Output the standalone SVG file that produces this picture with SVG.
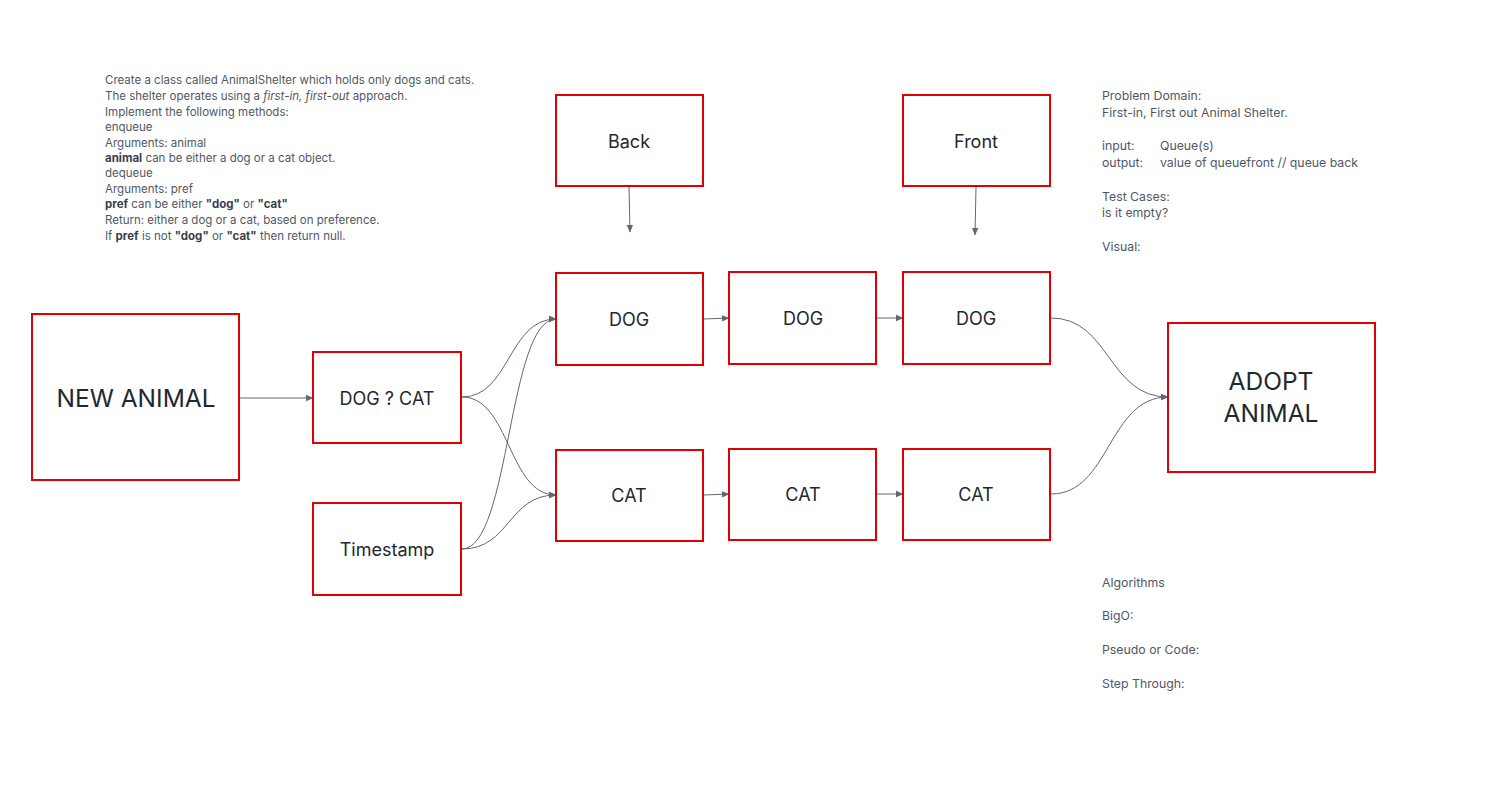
<svg xmlns="http://www.w3.org/2000/svg" width="1509" height="802" viewBox="0 0 1509 802">
<style>
.box{fill:#ffffff;stroke:#e00000;stroke-width:2}
.lbl{font-family:Inter,"Liberation Sans",sans-serif;fill:#23272f;text-anchor:middle;dominant-baseline:central}
.m{font-size:18px}
.l{font-size:24.5px}
.note{font-family:Inter,"Liberation Sans",sans-serif;font-size:11.5px;fill:#505766}
.note2{font-family:Inter,"Liberation Sans",sans-serif;font-size:12.3px;fill:#505766}
.b{font-weight:700;fill:#3a3f4b}
.conn{fill:none;stroke:#5f6778;stroke-width:1}
</style>
<defs>
<marker id="ah" viewBox="0 0 8 8" refX="7" refY="4" markerWidth="8" markerHeight="8" markerUnits="userSpaceOnUse" orient="auto">
<path d="M0,0.8 L7.5,4 L0,7.2 Z" fill="#5f6778"/>
</marker>
</defs>
<rect width="1509" height="802" fill="#ffffff"/>

<g id="notes-left">
<text class="note" x="105" y="84">Create a class called AnimalShelter which holds only dogs and cats.</text>
<text class="note" x="105" y="100">The shelter operates using a <tspan font-style="italic">first-in, first-out</tspan> approach.</text>
<text class="note" x="105" y="116">Implement the following methods:</text>
<text class="note" x="105" y="131">enqueue</text>
<text class="note" x="105" y="147">Arguments: animal</text>
<text class="note" x="105" y="162"><tspan class="b">animal</tspan> can be either a dog or a cat object.</text>
<text class="note" x="105" y="177">dequeue</text>
<text class="note" x="105" y="193">Arguments: pref</text>
<text class="note" x="105" y="208"><tspan class="b">pref</tspan> can be either <tspan class="b">"dog"</tspan> or <tspan class="b">"cat"</tspan></text>
<text class="note" x="105" y="224">Return: either a dog or a cat, based on preference.</text>
<text class="note" x="105" y="240">If <tspan class="b">pref</tspan> is not <tspan class="b">"dog"</tspan> or <tspan class="b">"cat"</tspan> then return null.</text>
</g>

<g id="notes-right">
<text class="note2" x="1102" y="100">Problem Domain:</text>
<text class="note2" x="1102" y="117">First-in, First out Animal Shelter.</text>
<text class="note2" x="1102" y="150">input:</text>
<text class="note2" x="1160" y="150">Queue(s)</text>
<text class="note2" x="1102" y="167">output:</text>
<text class="note2" x="1160" y="167">value of queuefront // queue back</text>
<text class="note2" x="1102" y="201">Test Cases:</text>
<text class="note2" x="1102" y="217">is it empty?</text>
<text class="note2" x="1102" y="251">Visual:</text>
<text class="note2" x="1102" y="587">Algorithms</text>
<text class="note2" x="1102" y="620">BigO:</text>
<text class="note2" x="1102" y="654">Pseudo or Code:</text>
<text class="note2" x="1102" y="688">Step Through:</text>
</g>

<g id="connectors">
<path class="conn" d="M240,398 L313,398" marker-end="url(#ah)"/>
<path class="conn" d="M462,397 C510,397 508,319 556,319" marker-end="url(#ah)"/>
<path class="conn" d="M462,397 C510,397 508,495 556,495" marker-end="url(#ah)"/>
<path class="conn" d="M462,549 C510,549 508,319 556,319" marker-end="url(#ah)"/>
<path class="conn" d="M462,549 C510,549 508,495 556,495" marker-end="url(#ah)"/>
<path class="conn" d="M704,319 L729,318" marker-end="url(#ah)"/>
<path class="conn" d="M704,495 L729,494" marker-end="url(#ah)"/>
<path class="conn" d="M877,318 L903,318" marker-end="url(#ah)"/>
<path class="conn" d="M877,494 L903,494" marker-end="url(#ah)"/>
<path class="conn" d="M1051,318 C1110,318 1108,397 1168,397" marker-end="url(#ah)"/>
<path class="conn" d="M1051,494 C1110,494 1108,397 1168,397" marker-end="url(#ah)"/>
<path class="conn" d="M629,187 L630,232" marker-end="url(#ah)"/>
<path class="conn" d="M976,187 L975,235" marker-end="url(#ah)"/>
</g>

<g id="new-animal"><rect class="box" x="32" y="314" width="207" height="166"/><text class="lbl l" x="136" y="398">NEW ANIMAL</text></g>
<g id="dog-or-cat"><rect class="box" x="313" y="352" width="148" height="91"/><text class="lbl m" x="387" y="398">DOG ? CAT</text></g>
<g id="timestamp"><rect class="box" x="313" y="503" width="148" height="92"/><text class="lbl m" x="387" y="549">Timestamp</text></g>
<g id="back"><rect class="box" x="556" y="95" width="147" height="91"/><text class="lbl m" x="629" y="141">Back</text></g>
<g id="front"><rect class="box" x="903" y="95" width="147" height="91"/><text class="lbl m" x="976" y="141">Front</text></g>
<g id="dog1"><rect class="box" x="556" y="273" width="147" height="92"/><text class="lbl m" x="629" y="319">DOG</text></g>
<g id="dog2"><rect class="box" x="729" y="272" width="147" height="92"/><text class="lbl m" x="803" y="318">DOG</text></g>
<g id="dog3"><rect class="box" x="903" y="272" width="147" height="92"/><text class="lbl m" x="976" y="318">DOG</text></g>
<g id="cat1"><rect class="box" x="556" y="450" width="147" height="91"/><text class="lbl m" x="629" y="495">CAT</text></g>
<g id="cat2"><rect class="box" x="729" y="449" width="147" height="91"/><text class="lbl m" x="803" y="494">CAT</text></g>
<g id="cat3"><rect class="box" x="903" y="449" width="147" height="91"/><text class="lbl m" x="976" y="494">CAT</text></g>
<g id="adopt"><rect class="box" x="1168" y="323" width="207" height="149"/><text class="lbl l" x="1271" y="381">ADOPT</text><text class="lbl l" x="1271" y="413">ANIMAL</text></g>
</svg>
